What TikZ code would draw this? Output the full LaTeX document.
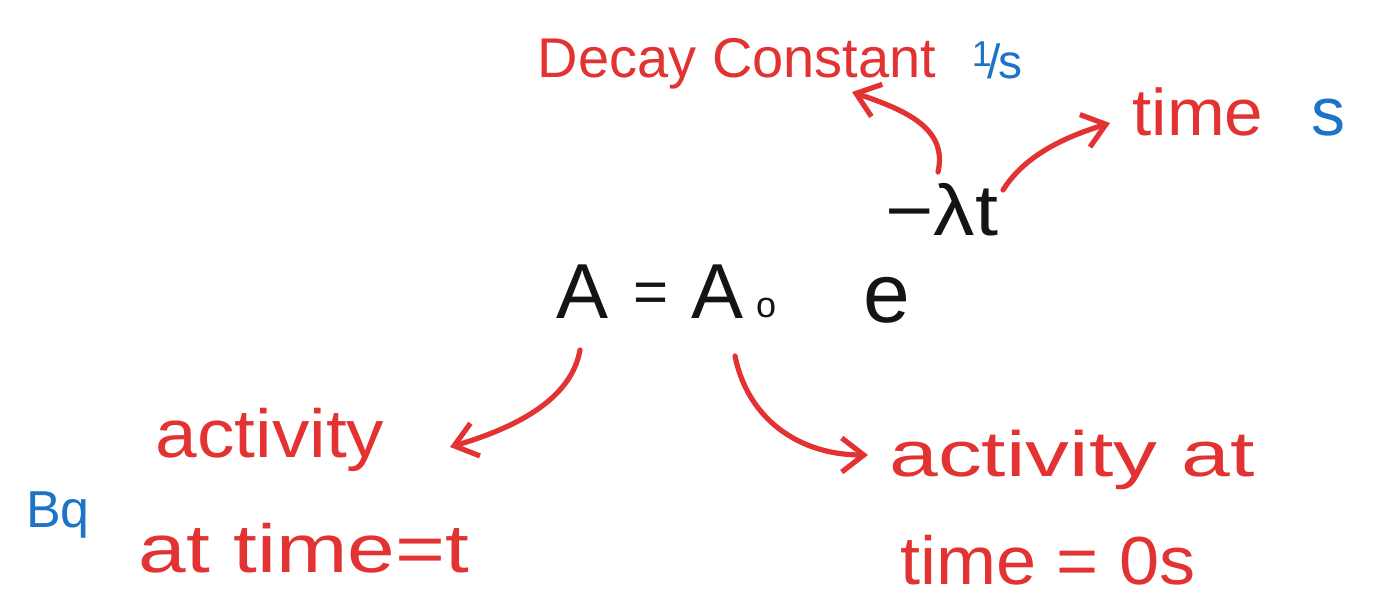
\documentclass[tikz,border=0pt]{standalone}
\usepackage{fontspec}
\usepackage{graphicx}
\setmainfont{Liberation Sans}
\usetikzlibrary{arrows.meta}
\definecolor{pen}{RGB}{226,50,50}
\definecolor{ink}{RGB}{28,115,200}
\definecolor{blk}{RGB}{20,20,20}
\newcommand\hs[2]{\scalebox{#1}[1]{#2}}
\tikzset{
  redtxt/.style={text=pen,inner sep=0pt,anchor=center},
  bluetxt/.style={text=ink,inner sep=0pt,anchor=center},
  blacktxt/.style={text=blk,inner sep=0pt,anchor=center},
  penarrow/.style={draw=pen,line width=2.6pt,line cap=round,
    -{Straight Barb[length=11pt,width=17pt,line width=2.6pt]}}
}
\begin{document}
\begin{tikzpicture}[x=0.5pt,y=-0.5pt]
\useasboundingbox (0,0) rectangle (1374,602);
% formula
\node[blacktxt,font=\fontsize{39}{40}\selectfont] (A) at (583,292) {A};
\node[blacktxt,font=\fontsize{30}{30}\selectfont] (eq) at (651,298) {=};
\node[blacktxt,font=\fontsize{39}{40}\selectfont] (A0) at (718,292) {A};
\node[blacktxt,font=\fontsize{18}{18}\selectfont] (o) at (766,308) {o};
\node[blacktxt,font=\fontsize{42}{42}\selectfont] (e) at (887,300) {e};
\node[blacktxt,font=\fontsize{36}{36}\selectfont] (exp) at (942,210) {\hs{1.15}{−λt}};
% top labels
\node[redtxt,font=\fontsize{28}{28}\selectfont] (decay) at (737,64) {Decay Constant};
\node[bluetxt,font=\fontsize{24}{24}\selectfont] (pers) at (997,60) {\raisebox{0.25em}{\fontsize{18}{18}\selectfont 1}\kern-0.1em/\kern-0.05em s};
\node[redtxt,font=\fontsize{33}{33}\selectfont] (time) at (1198,112) {\hs{1.05}{time}};
\node[bluetxt,font=\fontsize{34}{34}\selectfont] (secs) at (1328,118) {s};
% bottom labels
\node[redtxt,font=\fontsize{34}{34}\selectfont] (act) at (270,440) {\hs{1.1}{activity}};
\node[redtxt,font=\fontsize{34}{34}\selectfont] (att) at (304,548) {\hs{1.26}{at time=t}};
\node[bluetxt,font=\fontsize{26}{26}\selectfont] (bq) at (58,515) {Bq};
\node[redtxt,font=\fontsize{32}{32}\selectfont] (act0) at (1072,460) {\hs{1.37}{activity at}};
\node[redtxt,font=\fontsize{34}{34}\selectfont] (time0) at (1048,560) {\hs{1.06}{time = 0s}};
% arrow anchors
\coordinate (s1) at (938,172);
\coordinate (t1) at (852,92);
\coordinate (s2) at (1003,190);
\coordinate (t2) at (1110,123);
\coordinate (s3) at (580,350);
\coordinate (t3) at (450,447);
\coordinate (s4) at (735,356);
\coordinate (t4) at (868,455);
\draw[penarrow] (s1) .. controls (948,128) and (905,110) .. (t1);
\draw[penarrow] (s2) .. controls (1025,155) and (1065,137) .. (t2);
\draw[penarrow] (s3) .. controls (572,395) and (525,425) .. (t3);
\draw[penarrow] (s4) .. controls (748,420) and (800,455) .. (t4);
\end{tikzpicture}
\end{document}
